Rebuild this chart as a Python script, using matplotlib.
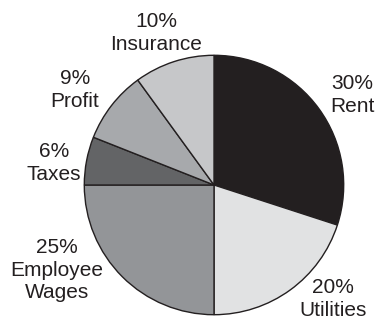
import matplotlib.pyplot as plt

plt.rcParams["font.family"] = ["Liberation Sans", "DejaVu Sans"]

categories = ["Rent", "Utilities", "Employee\nWages", "Taxes", "Profit", "Insurance"]
shares = [30, 20, 25, 6, 9, 10]
colors = ["#231f20", "#e1e2e3", "#939598", "#636466", "#a7a9ac", "#c6c7c9"]

# label block centres in pixels (x from left, y from top)
label_pos = [(352, 95), (333, 299), (57, 270), (54, 163), (75, 90), (156, 33)]

W, H = 376, 321
cx, cy, r = 214, 185, 131

fig = plt.figure(figsize=(W / 100, H / 100), dpi=100)
ax = fig.add_axes([(cx - r) / W, (H - cy - r) / H, 2 * r / W, 2 * r / H])
ax.pie(
    shares,
    colors=colors,
    startangle=90,
    counterclock=False,
    radius=1,
    wedgeprops={"edgecolor": "#231f20", "linewidth": 1.0},
)
ax.set_xlim(-1.01, 1.01)
ax.set_ylim(-1.01, 1.01)
ax.set_aspect("auto")
ax.axis("off")

for name, pct, (px, py) in zip(categories, shares, label_pos):
    fig.text(px / W, 1 - py / H, f"{pct}%\n{name}", ha="center", va="center",
             fontsize=15, color="#231f20", linespacing=1.25)

fig.savefig("out.png", dpi=100)
